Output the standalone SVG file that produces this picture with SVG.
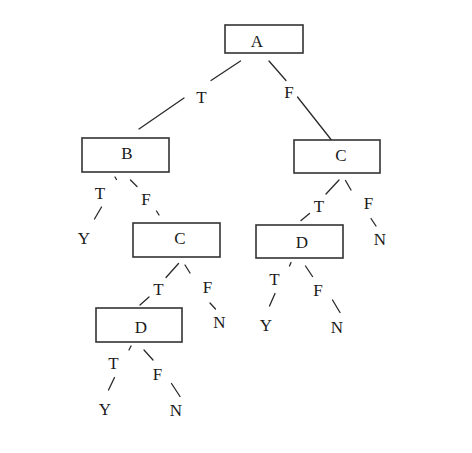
<svg xmlns="http://www.w3.org/2000/svg" width="472" height="453" viewBox="0 0 472 453">
<style>
.box{fill:#fff;stroke:#333;stroke-width:1.6}
.ln{stroke:#2a2a2a;stroke-width:1.3;fill:none;stroke-linecap:round}
text{font-family:"Liberation Serif","Times New Roman",serif;font-size:17px;fill:#1a1a1a;text-anchor:middle}
</style>
<rect width="472" height="453" fill="#fff"/>
<g id="connectors">
<line class="ln" x1="240.5" y1="61" x2="211" y2="80.5"/>
<line class="ln" x1="184" y1="98" x2="139" y2="129"/>
<line class="ln" x1="269" y1="61" x2="286" y2="80.5"/>
<line class="ln" x1="297.5" y1="97" x2="333" y2="142"/>
<line class="ln" x1="115" y1="177" x2="116.5" y2="179.5"/>
<line class="ln" x1="101.5" y1="207" x2="94.5" y2="219"/>
<line class="ln" x1="130.5" y1="180" x2="137" y2="186.5"/>
<line class="ln" x1="156.5" y1="211" x2="159" y2="215"/>
<line class="ln" x1="173" y1="224" x2="173.5" y2="225"/>
<line class="ln" x1="178.5" y1="263.5" x2="166" y2="277.5"/>
<line class="ln" x1="149" y1="297" x2="140" y2="305"/>
<line class="ln" x1="185" y1="265" x2="190" y2="273"/>
<line class="ln" x1="210" y1="303" x2="215.5" y2="309"/>
<line class="ln" x1="131" y1="346" x2="129" y2="350"/>
<line class="ln" x1="114.5" y1="377.5" x2="108.5" y2="390"/>
<line class="ln" x1="144" y1="350" x2="153" y2="360"/>
<line class="ln" x1="171.5" y1="383.5" x2="180" y2="396.5"/>
<line class="ln" x1="339" y1="180" x2="326" y2="194"/>
<line class="ln" x1="309.5" y1="213.5" x2="301" y2="220.5"/>
<line class="ln" x1="345.5" y1="180.5" x2="351" y2="190"/>
<line class="ln" x1="371" y1="218.5" x2="376" y2="226"/>
<line class="ln" x1="291" y1="262.5" x2="289.5" y2="266"/>
<line class="ln" x1="275" y1="293.5" x2="269.5" y2="306"/>
<line class="ln" x1="305.5" y1="266" x2="312.5" y2="276.5"/>
<line class="ln" x1="332.5" y1="300" x2="340" y2="312.5"/>
</g>
<g id="nodeA"><rect class="box" x="225" y="25" width="78" height="28"/><text x="257" y="47">A</text></g>
<g id="nodeB"><rect class="box" x="82" y="138" width="87" height="34"/><text x="127" y="159">B</text></g>
<g id="nodeC1"><rect class="box" x="294" y="140" width="86" height="33"/><text x="341" y="161">C</text></g>
<g id="nodeC2"><rect class="box" x="133" y="223" width="87" height="34"/><text x="180" y="244">C</text></g>
<g id="nodeD1"><rect class="box" x="256" y="225" width="87" height="33"/><text x="302" y="248">D</text></g>
<g id="nodeD2"><rect class="box" x="96" y="308" width="86" height="34"/><text x="141" y="332.5">D</text></g>
<g id="labels">
<text x="201.5" y="103">T</text>
<text x="289" y="98">F</text>
<text x="100" y="199">T</text>
<text x="84" y="244">Y</text>
<text x="146" y="205">F</text>
<text x="158.5" y="295">T</text>
<text x="207.5" y="292.5">F</text>
<text x="219.5" y="328">N</text>
<text x="113.5" y="368.5">T</text>
<text x="105" y="415">Y</text>
<text x="157.5" y="380">F</text>
<text x="176" y="416">N</text>
<text x="319" y="212">T</text>
<text x="368.5" y="208.5">F</text>
<text x="380" y="245">N</text>
<text x="274.5" y="285">T</text>
<text x="266" y="331">Y</text>
<text x="318" y="296">F</text>
<text x="337" y="332.5">N</text>
</g>
</svg>
